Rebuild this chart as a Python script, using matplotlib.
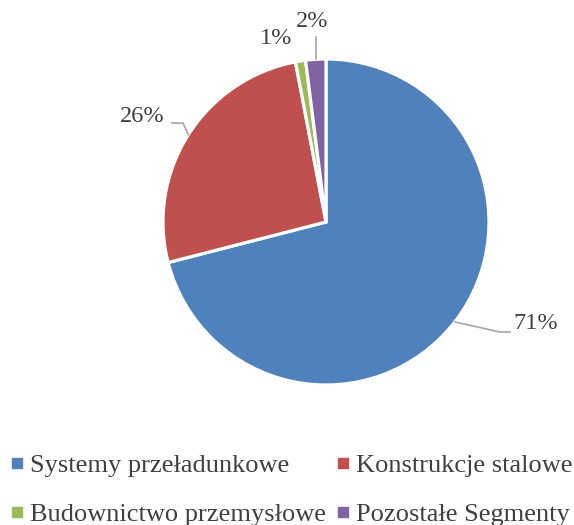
import matplotlib.pyplot as plt
from matplotlib.lines import Line2D
import numpy as np

# segment shares (percent)
segments = ["Systemy przeładunkowe", "Konstrukcje stalowe",
            "Budownictwo przemysłowe", "Pozostałe Segmenty"]
shares = [71, 26, 1, 2]
colors = ["#4F81BD", "#C0504D", "#9BBB59", "#8064A2"]

plt.rcParams['font.family'] = ['Liberation Serif', 'DejaVu Serif']
text_color = "#404040"
line_color = "#A6A6A6"

fig = plt.figure(figsize=(5.74, 5.25), dpi=100)
W, H = 574, 525
cx, cy, r = 326, 222, 163
ax = fig.add_axes([(cx - r) / W, (H - cy - r) / H, 2 * r / W, 2 * r / H])

wedges, _ = ax.pie(shares, colors=colors, startangle=90, counterclock=False,
                   radius=1, wedgeprops=dict(edgecolor="white", linewidth=2.3))
ax.set_xlim(-1, 1)
ax.set_ylim(-1, 1)
ax.set_aspect("equal")
ax.axis("off")

# label placement: (text x, text y, ha, elbow points after the edge point)
label_style = [
    ((1.147, -0.62), "left", [(1.067, -0.675), (1.129, -0.675)]),
    ((-0.99, 0.65), "right", [(-0.877, 0.607), (-0.945, 0.607)]),
    ((-0.307, 1.123), "center", []),
    ((-0.086, 1.233), "center", [(None, 1.135)]),
]

for w, val, (pos, ha, elbow) in zip(wedges, shares, label_style):
    mid = np.deg2rad((w.theta1 + w.theta2) / 2)
    ex, ey = np.cos(mid), np.sin(mid)
    if elbow:
        xs = [ex] + [ex if p[0] is None else p[0] for p in elbow]
        ys = [ey] + [p[1] for p in elbow]
        ax.plot(xs, ys, color=line_color, lw=1.2, clip_on=False)
    ax.text(pos[0], pos[1], f"{val}%", ha=ha, va="center",
            fontsize=17.5, color=text_color)

# legend fills column-wise, so reorder to read row-wise like the original
handles = [Line2D([], [], marker="s", ls="", markersize=6.5, color=c) for c in colors]
order = [0, 2, 1, 3]
fig.legend([handles[i] for i in order], [segments[i] for i in order],
           ncol=2, loc="center", bbox_to_anchor=(0.509, 0.067),
           frameon=False, fontsize=19, labelcolor=text_color,
           handlelength=0.4, handletextpad=0.31, columnspacing=0.42,
           labelspacing=0.95, borderaxespad=0, borderpad=0)

fig.savefig("out.png", dpi=100)
